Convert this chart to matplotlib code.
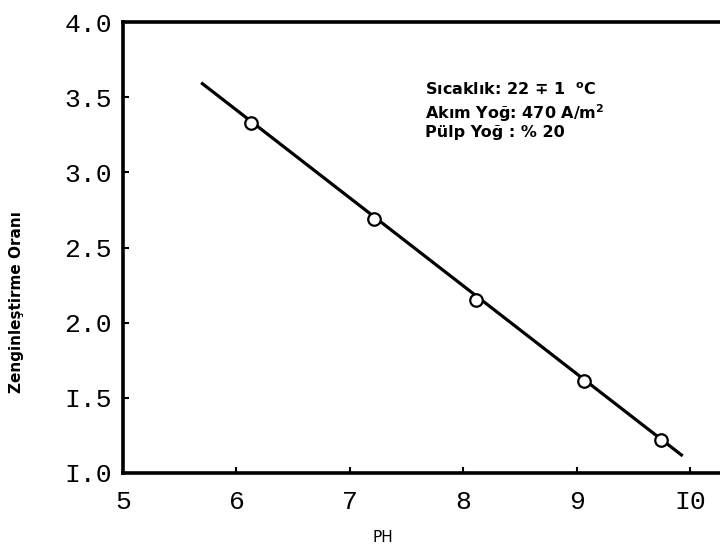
import matplotlib
matplotlib.use('Agg')
import matplotlib.pyplot as plt

# olcum noktalari (pH - zenginlestirme orani)
ph = [6.13, 7.21, 8.11, 9.06, 9.74]
oran = [3.33, 2.69, 2.15, 1.61, 1.22]

# cizilen dogru (uc noktalar)
fit_ph = [5.70, 9.92]
fit_oran = [3.59, 1.12]

x_ticks = [5, 6, 7, 8, 9, 10]
x_labels = ['5', '6', '7', '8', '9', 'I0']
y_ticks = [1.0, 1.5, 2.0, 2.5, 3.0, 3.5, 4.0]
y_labels = ['I.0', 'I.5', '2.0', '2.5', '3.0', '3.5', '4.0']

notes = ['Sıcaklık: 22 ∓ 1  $^{o}$C', 'Akım Yoğ: 470 A/m$^{2}$', 'Pülp Yoğ : % 20']

plt.rcParams['mathtext.default'] = 'bf'
sans = ['DejaVu Sans']
mono = ['Liberation Mono', 'DejaVu Sans Mono']

fig = plt.figure(figsize=(7.2, 5.51), dpi=100)
ax = fig.add_axes([0.1708, 0.1416, 0.8292, 0.8184])

ax.plot(fit_ph, fit_oran, color='black', linewidth=2.3, zorder=2)
ax.plot(ph, oran, 'o', markersize=9, markerfacecolor='white',
        markeredgecolor='black', markeredgewidth=1.6, zorder=3)

ax.set_xlim(5, 10.26)
ax.set_ylim(1.0, 4.0)
ax.set_xticks(x_ticks)
ax.set_xticklabels(x_labels, family=mono, fontsize=19)
ax.set_yticks(y_ticks)
ax.set_yticklabels(y_labels, family=mono, fontsize=19)
ax.tick_params(direction='in', length=4, width=1.5)
ax.tick_params(axis='x', pad=12)
ax.tick_params(axis='y', pad=8)

for side in ['left', 'bottom', 'top']:
    ax.spines[side].set_linewidth(2.6)
ax.spines['right'].set_visible(False)

# yan yazilar (satir taban cizgileri, eksen orani)
for line, yy in zip(notes, [0.838, 0.786, 0.744]):
    ax.text(0.506, yy, line, transform=ax.transAxes,
            family=sans, fontweight='bold', fontsize=11.5, va='baseline')

fig.text(17 / 720, 1 - 302 / 551, 'Zenginleştirme Oranı', rotation=90,
         family=sans, fontweight='bold', fontsize=11, ha='center', va='center')
fig.text(383 / 720, 1 - 537 / 551, 'PH', family=sans, fontsize=11,
         ha='center', va='center')

fig.savefig('out.png', dpi=100)
